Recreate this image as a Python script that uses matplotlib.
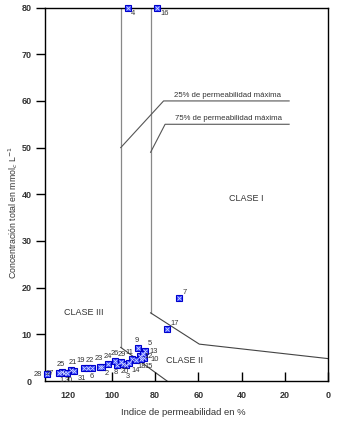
import matplotlib
matplotlib.use("Agg")
import matplotlib.pyplot as plt

# ---------------- data ----------------
sample_ids = list(range(1, 32))
permeability = [122.0, 104.4, 93.3, 92.6, 84.6, 109.1, 68.7, 97.5, 87.7, 85.0,
                90.6, 86.9, 85.5, 92.0, 86.4, 78.9, 74.5, 88.7, 112.8, 94.7,
                118.8, 110.9, 105.4, 101.7, 122.9, 98.4, 124.3, 130.0, 95.7, 120.6,
                117.4]
concentration = [1.7, 3.0, 3.4, 80.0, 6.4, 2.7, 17.7, 3.4, 7.0, 5.0,
                 4.7, 5.4, 5.8, 3.9, 4.7, 80.0, 11.1, 4.5, 2.8, 3.6,
                 2.4, 2.8, 3.1, 3.6, 1.9, 4.3, 1.7, 1.5, 4.1, 1.7,
                 2.1]

# class boundaries (permeability %, concentration)
boundary_left_x = [95.8, 95.8, 74.4]
boundary_left_y = [80, 7.2, 0]
boundary_right_x = [82.0, 82.0, 59.5, 0]
boundary_right_y = [80, 14.6, 7.9, 4.8]

leader25_x = [95.8, 76.0, 18.0]
leader25_y = [50.0, 60.0, 60.0]
leader75_x = [82.0, 75.3, 18.0]
leader75_y = [49.0, 55.0, 55.0]

x_ticks = [120, 100, 80, 60, 40, 20, 0]
y_ticks = [0, 10, 20, 30, 40, 50, 60, 70, 80]

# label placement for each sample (style only): (dx, dy) in points, ha, va
label_off = {1: (-1.5, -3, 'center', 'top'), 2: (1.5, -2, 'left', 'top'),
             3: (-0.5, -5.5, 'left', 'top'), 4: (2.5, -1.5, 'left', 'top'),
             5: (2, 3, 'left', 'bottom'), 6: (0, -3, 'center', 'top'),
             7: (2.5, 1.5, 'left', 'bottom'), 8: (-1, -3, 'center', 'top'),
             9: (-1, 3, 'center', 'bottom'), 10: (4.5, -1.5, 'left', 'center'),
             11: (-2, 2.5, 'center', 'bottom'), 12: (3.5, -0.3, 'left', 'center'),
             13: (4.5, 2.0, 'left', 'center'), 14: (2, -3, 'left', 'top'),
             15: (2.5, -3, 'left', 'top'), 16: (2.5, -1.5, 'left', 'top'),
             17: (2.5, 1.5, 'left', 'bottom'), 18: (1, -2.5, 'left', 'top'),
             19: (-2, 3, 'center', 'bottom'), 20: (1, -3, 'center', 'top'),
             21: (1, 3, 'center', 'bottom'), 22: (1, 3, 'center', 'bottom'),
             23: (-1, 3, 'center', 'bottom'), 24: (0, 3, 'center', 'bottom'),
             25: (-1, 3, 'center', 'bottom'), 26: (0, 3, 'center', 'bottom'),
             27: (-3.5, 0, 'right', 'center'), 28: (-3.5, 0, 'right', 'center'),
             29: (1, 3, 'center', 'bottom'), 30: (1, -3, 'center', 'top'),
             31: (3, -2.5, 'left', 'top')}

plt.rcParams['font.family'] = ['Liberation Sans', 'DejaVu Sans']

fig = plt.figure(figsize=(3.37, 4.21), dpi=100)
ax = fig.add_axes([0.1335, 0.095, 0.84, 0.887])

ax.set_xlim(130.8, 0)
ax.set_ylim(0, 80)

# boundaries
ax.plot(boundary_left_x[:2], boundary_left_y[:2], color='#888888', lw=0.9, zorder=1)
ax.plot(boundary_left_x[1:], boundary_left_y[1:], color='#444444', lw=0.8, zorder=1)
ax.plot(boundary_right_x[:2], boundary_right_y[:2], color='#888888', lw=0.9, zorder=1)
ax.plot(boundary_right_x[1:], boundary_right_y[1:], color='#444444', lw=0.8, zorder=1)
ax.plot(leader25_x, leader25_y, color='#555555', lw=0.8, zorder=1)
ax.plot(leader75_x, leader75_y, color='#555555', lw=0.8, zorder=1)

ax.text(46.5, 60.4, '25% de permeabilidad máxima', fontsize=5.6, color='#333333',
        ha='center', va='bottom')
ax.text(46.0, 55.4, '75% de permeabilidad máxima', fontsize=5.6, color='#333333',
        ha='center', va='bottom')

ax.text(38.0, 39.2, 'CLASE I', fontsize=6.5, color='#333333', ha='center', va='center')
ax.text(112.8, 14.7, 'CLASE III', fontsize=6.5, color='#333333', ha='center', va='center')
ax.text(66.5, 4.3, 'CLASE II', fontsize=6.5, color='#333333', ha='center', va='center')

# points
ax.plot(permeability, concentration, linestyle='none', marker='s', markersize=5.0,
        markerfacecolor='#3344ff', markeredgecolor='#0000cc', markeredgewidth=0.8,
        clip_on=False, zorder=3)
ax.plot(permeability, concentration, linestyle='none', marker='x', markersize=2.8,
        markeredgecolor='#ccd4ff', markeredgewidth=0.6, clip_on=False, zorder=4)

for sid, px, py in zip(sample_ids, permeability, concentration):
    dx, dy, ha, va = label_off[sid]
    ax.annotate(str(sid), (px, py), xytext=(dx, dy), textcoords='offset points',
                fontsize=5.4, color='#333333', ha=ha, va=va, zorder=5,
                annotation_clip=False)

ax.set_xticks(x_ticks)
ax.set_yticks(y_ticks)
ax.set_xticklabels([str(v) for v in x_ticks])
ax.set_yticklabels([str(v) for v in y_ticks])
ax.tick_params(axis='x', direction='in', length=6.5, width=1.0, pad=7,
               labelsize=6.5, labelcolor='#333333')
ax.tick_params(axis='y', direction='out', length=6.5, width=1.0, pad=3,
               labelsize=6.5, labelcolor='#333333')
ax.yaxis.get_major_ticks()[0].tick1line.set_visible(False)
for lab in ax.get_xticklabels() + ax.get_yticklabels():
    lab.set_fontweight('bold')

for sp in ax.spines.values():
    sp.set_linewidth(1.0)

ax.set_xlabel('Indice de permeabilidad en %', fontsize=6.8, color='#333333')
ax.xaxis.set_label_coords(0.49, -0.072)
ax.set_ylabel('Concentración total en mmol$_c$ L$^{-1}$', fontsize=6.3, color='#333333')
ax.yaxis.set_label_coords(-0.09, 0.45)

fig.savefig('out.png', dpi=100)
